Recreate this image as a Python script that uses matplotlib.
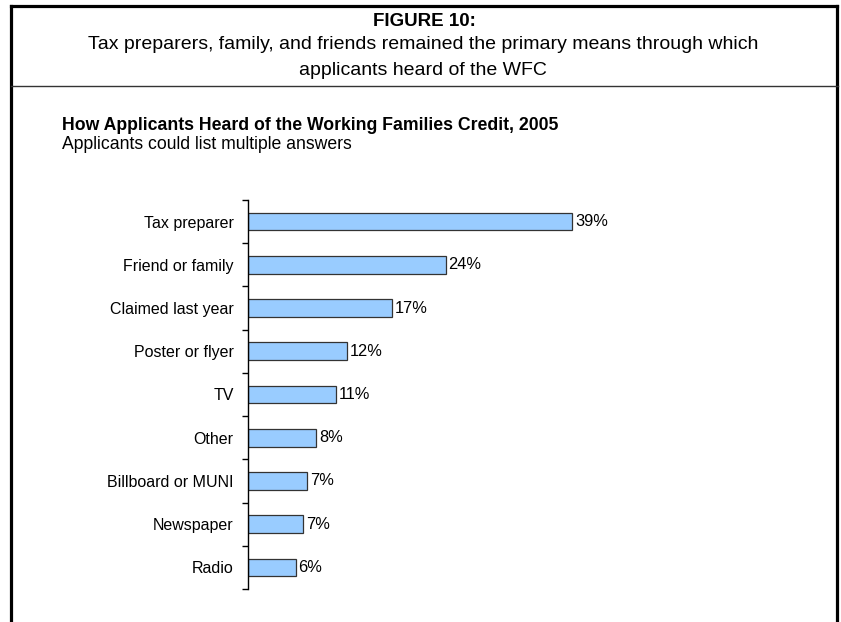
import matplotlib.pyplot as plt
from matplotlib.lines import Line2D
import numpy as np

plt.rcParams['font.family'] = ['Liberation Sans', 'DejaVu Sans']

# --- Data ---
categories = ['Tax preparer', 'Friend or family', 'Claimed last year', 'Poster or flyer',
              'TV', 'Other', 'Billboard or MUNI', 'Newspaper', 'Radio']
values = [39.2, 23.9, 17.4, 12.0, 10.7, 8.3, 7.2, 6.7, 5.8]
value_labels = ['39%', '24%', '17%', '12%', '11%', '8%', '7%', '7%', '6%']

W, H = 841, 622
fig = plt.figure(figsize=(W / 100, H / 100), dpi=100)


def fx(px):
    return px / W


def fy(py):
    return 1 - py / H


# frame around the figure (open at the bottom)
frame_kw = dict(color='black', linewidth=2.3, transform=fig.transFigure, solid_capstyle='projecting')
fig.add_artist(Line2D([fx(10.5), fx(10.5)], [fy(6), fy(H + 5)], **frame_kw))
fig.add_artist(Line2D([fx(836.5), fx(836.5)], [fy(6), fy(H + 5)], **frame_kw))
fig.add_artist(Line2D([fx(10.5), fx(836.5)], [fy(6), fy(6)], **frame_kw))
fig.add_artist(Line2D([fx(10.5), fx(838)], [fy(86), fy(86)], color='#333333', linewidth=1.0,
                      transform=fig.transFigure))

# header
fig.text(fx(424), fy(26), 'FIGURE 10:', ha='center', va='baseline', fontsize=13.5, fontweight='bold')
fig.text(fx(423), fy(49), 'Tax preparers, family, and friends remained the primary means through which',
         ha='center', va='baseline', fontsize=14)
fig.text(fx(423), fy(75), 'applicants heard of the WFC', ha='center', va='baseline', fontsize=14)

# chart titles
fig.text(fx(62), fy(130), 'How Applicants Heard of the Working Families Credit, 2005',
         ha='left', va='baseline', fontsize=12.7, fontweight='bold')
fig.text(fx(62), fy(149), 'Applicants could list multiple answers',
         ha='left', va='baseline', fontsize=12.7)

# bar chart
px_per_unit = 8.29
xmax = 50
ax = fig.add_axes([fx(247.5), fy(589), xmax * px_per_unit / W, (589 - 200) / H])

y = np.arange(len(categories))
ax.barh(y, values, height=0.41, color='#99CCFF', edgecolor='#333333', linewidth=0.9)

for yi, v, lab in zip(y, values, value_labels):
    ax.text(v + 0.35, yi, lab, va='center', ha='left', fontsize=11.8)

ax.set_xlim(0, xmax)
ax.set_ylim(len(categories) - 0.5, -0.5)
ax.set_yticks(y)
ax.set_yticklabels(categories, fontsize=11.5)
ax.set_yticks(np.arange(len(categories) + 1) - 0.5, minor=True)
ax.tick_params(axis='y', which='major', length=0, pad=10)
ax.tick_params(axis='y', which='minor', length=4.5, width=1.0, color='black', direction='out')
ax.set_xticks([])

for s in ['top', 'right', 'bottom']:
    ax.spines[s].set_visible(False)
ax.spines['left'].set_linewidth(1.0)
ax.patch.set_alpha(0)

fig.savefig('out.png', dpi=100)
